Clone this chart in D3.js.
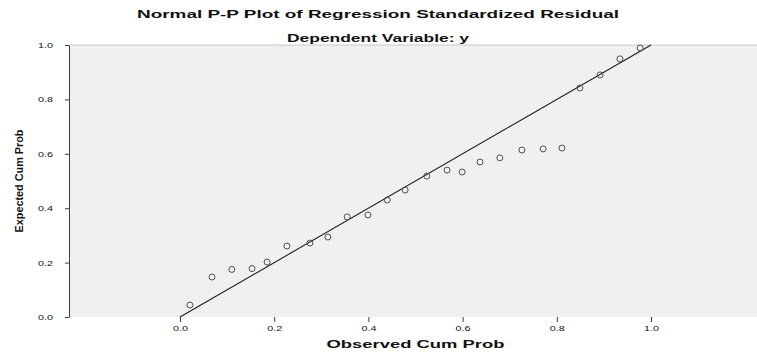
<!DOCTYPE html>
<html>
<head>
<meta charset="utf-8">
<script src="https://cdn.jsdelivr.net/npm/d3@7"></script>
<style>
  body { margin: 0; background: #fff; }
  text { font-family: "Liberation Sans", Arial, sans-serif; fill: #111; }
</style>
</head>
<body>
<div class="container"></div>
<script>
// observed / expected cumulative probabilities
const observed = [0.021, 0.068, 0.110, 0.153, 0.185, 0.227, 0.276, 0.314, 0.355, 0.399, 0.440, 0.478,
  0.524, 0.567, 0.599, 0.637, 0.679, 0.726, 0.771, 0.811, 0.849, 0.892, 0.934, 0.977];
const expected = [0.044, 0.147, 0.175, 0.178, 0.202, 0.261, 0.272, 0.294, 0.368, 0.375, 0.430, 0.467,
  0.518, 0.540, 0.533, 0.570, 0.585, 0.614, 0.618, 0.621, 0.842, 0.890, 0.949, 0.989];
const xTicks = [0, 0.2, 0.4, 0.6, 0.8, 1.0];
const yTicks = [0, 0.2, 0.4, 0.6, 0.8, 1.0];
const refLine = [0, 1];

const WIDTH = 757, HEIGHT = 354;
const MARGIN = { top: 45, right: 0, bottom: 37, left: 69 };

const svg = d3.select(".container").append("svg")
  .attr("width", WIDTH)
  .attr("height", HEIGHT);

// x: 0 -> 180px, 1 -> 651px, plot box runs a bit past both ends
const x = d3.scaleLinear()
  .domain([-0.2357, 1.2251])
  .range([MARGIN.left, WIDTH - MARGIN.right]);

const y = d3.scaleLinear()
  .domain([0, 1])
  .range([HEIGHT - MARGIN.bottom, MARGIN.top]);

svg.append("rect")
  .attr("x", MARGIN.left)
  .attr("y", MARGIN.top)
  .attr("width", WIDTH - MARGIN.left - MARGIN.right)
  .attr("height", HEIGHT - MARGIN.top - MARGIN.bottom)
  .attr("fill", "rgb(240,240,240)");

svg.append("line")
  .attr("x1", MARGIN.left).attr("x2", WIDTH)
  .attr("y1", MARGIN.top).attr("y2", MARGIN.top)
  .attr("stroke", "rgb(200,200,200)");

// y axis
const yAxis = svg.append("g")
  .attr("transform", `translate(${MARGIN.left},0)`)
  .call(d3.axisLeft(y).tickValues(yTicks).tickFormat(d3.format(".1f")).tickSize(4).tickSizeOuter(0).tickPadding(12));
yAxis.select(".domain").attr("stroke", "rgb(60,60,60)");
yAxis.selectAll(".tick line").attr("stroke", "rgb(60,60,60)");
yAxis.selectAll(".tick text")
  .attr("font-size", 8)
  .attr("font-family", "Liberation Sans, Arial, sans-serif")
  .attr("fill", "#222")
  .attr("textLength", 15)
  .attr("lengthAdjust", "spacingAndGlyphs");

// x axis
const xAxis = svg.append("g")
  .attr("transform", `translate(0,${HEIGHT - MARGIN.bottom})`)
  .call(d3.axisBottom(x).tickValues(xTicks).tickFormat(d3.format(".1f")).tickSize(5).tickPadding(3));
xAxis.select(".domain").remove();
xAxis.selectAll(".tick line").attr("stroke", "rgb(60,60,60)");
xAxis.selectAll(".tick text")
  .attr("font-size", 8)
  .attr("font-family", "Liberation Sans, Arial, sans-serif")
  .attr("fill", "#222")
  .attr("textLength", 15)
  .attr("lengthAdjust", "spacingAndGlyphs");

// reference line
svg.append("line")
  .attr("x1", x(refLine[0])).attr("y1", y(refLine[0]))
  .attr("x2", x(refLine[1])).attr("y2", y(refLine[1]))
  .attr("stroke", "rgb(30,30,30)")
  .attr("stroke-width", 1.1);

// points
svg.append("g")
  .selectAll("circle")
  .data(observed.map((o, i) => ({ o, e: expected[i] })))
  .enter()
  .append("circle")
  .attr("cx", d => x(d.o))
  .attr("cy", d => y(d.e))
  .attr("r", 3)
  .attr("fill", "none")
  .attr("stroke", "rgb(80,80,80)")
  .attr("stroke-width", 1);

// titles
svg.append("text")
  .attr("x", 378).attr("y", 18)
  .attr("text-anchor", "middle")
  .attr("font-size", 11).attr("font-weight", "bold")
  .attr("textLength", 482).attr("lengthAdjust", "spacingAndGlyphs")
  .text("Normal P-P Plot of Regression Standardized Residual");

svg.append("text")
  .attr("x", 378).attr("y", 42)
  .attr("text-anchor", "middle")
  .attr("font-size", 11).attr("font-weight", "bold")
  .attr("textLength", 182).attr("lengthAdjust", "spacingAndGlyphs")
  .text("Dependent Variable: y");

svg.append("text")
  .attr("x", x(0.5)).attr("y", 348)
  .attr("text-anchor", "middle")
  .attr("font-size", 11).attr("font-weight", "bold")
  .attr("textLength", 178).attr("lengthAdjust", "spacingAndGlyphs")
  .text("Observed Cum Prob");

svg.append("text")
  .attr("transform", `translate(23,${y(0.5)}) rotate(-90)`)
  .attr("text-anchor", "middle")
  .attr("font-size", 11).attr("font-weight", "bold")
  .attr("textLength", 103).attr("lengthAdjust", "spacingAndGlyphs")
  .text("Expected Cum Prob");
</script>
</body>
</html>
